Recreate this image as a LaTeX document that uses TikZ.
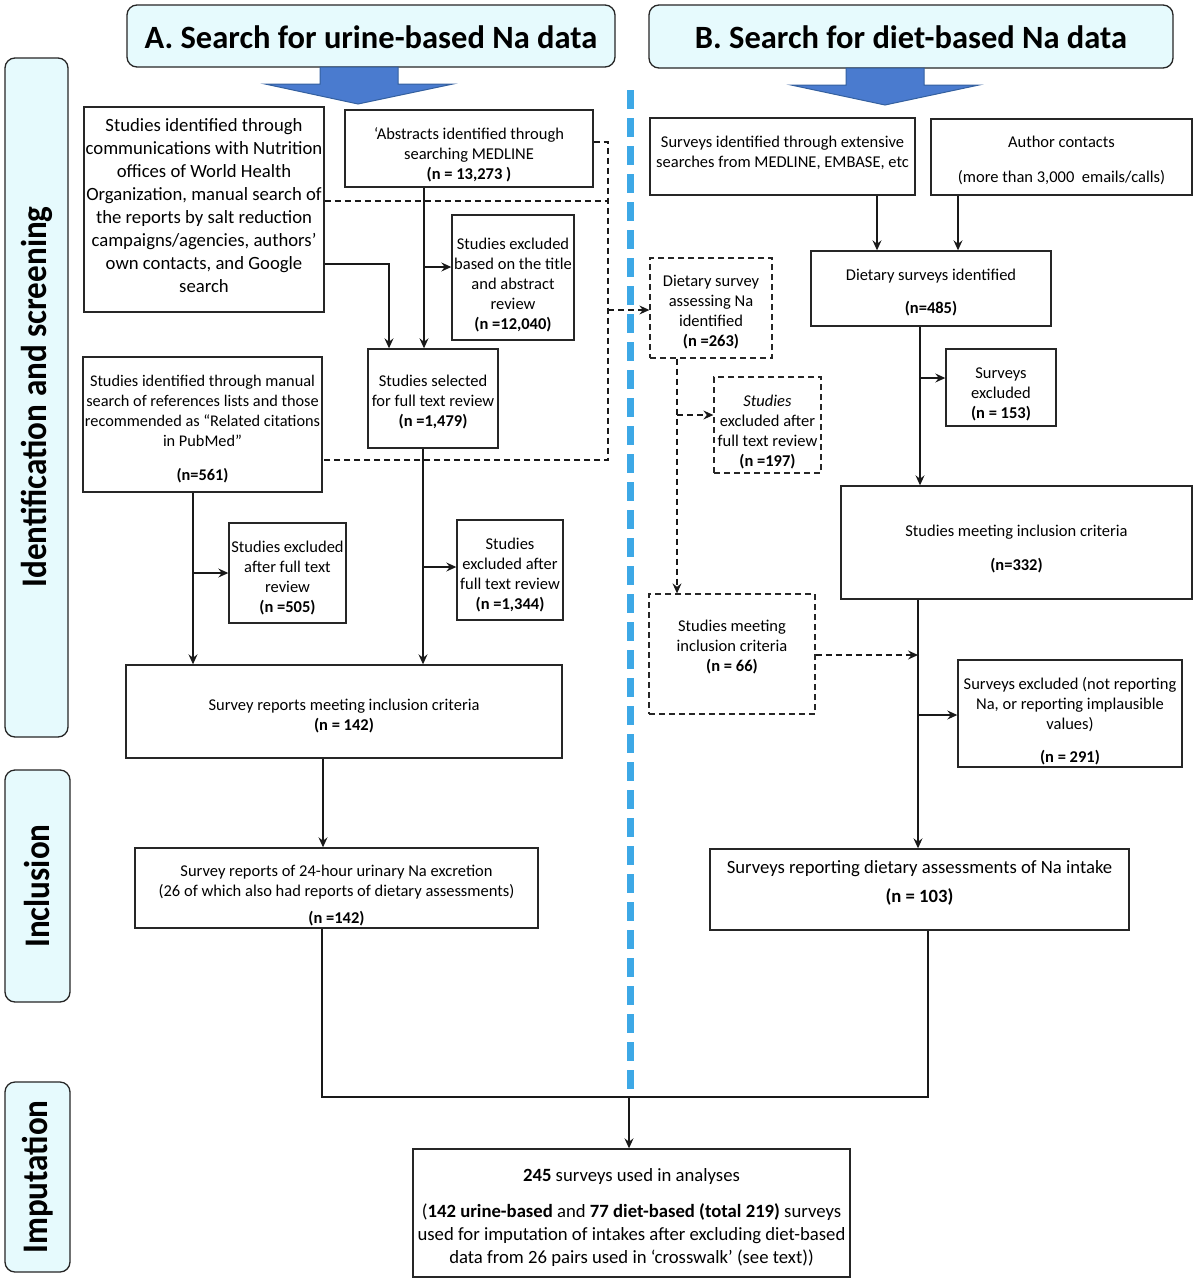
\documentclass[tikz,border=0pt]{standalone}
\usepackage{fontspec}
\setmainfont{Carlito}
\newfontfamily\sidefont[FakeStretch=0.92]{Carlito}
\usetikzlibrary{arrows.meta,calc}
\definecolor{hdrfill}{HTML}{E6FAFD}
\definecolor{arrblue}{HTML}{4A7BCF}
\definecolor{arredge}{HTML}{34609F}
\definecolor{dashblue}{HTML}{3DA8E6}
\tikzset{
  boxln/.style={draw=black!85, line width=1.4pt, rectangle, inner sep=0pt},
  dbox/.style={dash pattern=on 6pt off 4pt, line width=1.3pt},
  txt/.style={align=center, inner sep=0pt, font=\fontsize{16.5}{20}\selectfont},
  bigtxt/.style={align=center, inner sep=0pt, font=\fontsize{18.7}{23}\selectfont},
  smtxt/.style={align=center, inner sep=0pt, font=\fontsize{16.3}{20}\selectfont},
  conn/.style={line width=1.2pt, draw=black!90},
  arr/.style={conn, -{Stealth[length=10pt,width=9pt,inset=3.5pt]}},
  darr/.style={arr, dash pattern=on 6pt off 4pt},
  dln/.style={conn, dash pattern=on 6pt off 4pt},
  hdr/.style={draw=black!85, line width=1.3pt, fill=hdrfill, rounded corners=10pt, inner sep=0pt},
  hdrtxt/.style={font=\bfseries\fontsize{32.5}{36}\selectfont, inner sep=0pt},
  sidetxt/.style={rotate=90, font=\sidefont\bfseries\fontsize{36}{36}\selectfont, inner sep=0pt},
  bluearrow/.style={fill=arrblue, draw=arredge, line width=1pt, line join=miter}
}
% #1 box style, #2 text style, #3 name, #4 x1, #5 y1, #6 x2, #7 y2, #8 text centre y, #9 text
\newcommand\bx[9]{%
  \pgfmathsetmacro\bxcx{(#4+#6)/2}%
  \pgfmathsetmacro\bxcy{(#5+#7)/2}%
  \pgfmathsetmacro\bxw{#6-#4}%
  \pgfmathsetmacro\bxh{#7-#5}%
  \node[boxln,#1,minimum width=\bxw pt,minimum height=\bxh pt] (#3) at (\bxcx,\bxcy) {};
  \node[#2] (#3-t) at (\bxcx,#8) {#9};}
\begin{document}
\begin{tikzpicture}[x=1pt,y=-1pt]
\useasboundingbox (0,0) rectangle (1197,1280);
\fill[white] (0,0) rectangle (1197,1280);

% side bars
\bx{hdr}{sidetxt}{S1}{5}{58}{68}{737}{397}{Identification and screening}
\bx{hdr}{sidetxt}{S2}{5}{770}{70}{1002}{886}{Inclusion}
\bx{hdr}{sidetxt}{S3}{5}{1082}{70}{1272}{1177}{Imputation}

% headers
\bx{hdr}{hdrtxt}{HA}{127}{5}{615}{67}{37}{A. Search for urine-based Na data}
\bx{hdr}{hdrtxt}{HB}{649}{5}{1173}{68}{37}{B. Search for diet-based Na data}

% blue arrows
\draw[bluearrow] (320,67) -- (398,67) -- (398,84) -- (453,84) -- (358,104) -- (265,84) -- (320,84) -- cycle;
\draw[bluearrow] (846,68) -- (924,68) -- (924,85) -- (979,85) -- (885,105) -- (791,85) -- (846,85) -- cycle;

% blue dashed divider
\draw[dashblue, line width=7pt, dash pattern=on 19pt off 9pt] (630,90) -- (630,1092);

% left column
\bx{}{bigtxt}{L1}{84}{107}{324}{312}{206}{Studies identified through\\communications with Nutrition\\offices of World Health\\Organization, manual search of\\the reports by salt reduction\\campaigns/agencies, authors’\\own contacts, and Google\\search}
\bx{}{txt}{L2}{345}{110}{593}{187}{155}{`Abstracts identified through\\searching MEDLINE\\\textbf{(n = 13,273 )}}
\bx{}{txt}{L3}{452}{215}{574}{340}{285}{Studies excluded\\based on the title\\and abstract\\review\\\textbf{(n =12,040)}}
\bx{}{txt}{L4}{368}{349}{498}{448}{402}{Studies selected\\for full text review\\\textbf{(n =1,479)}}
\bx{}{smtxt}{L5}{83}{357}{322}{492}{429}{Studies identified through manual\\search of references lists and those\\recommended as “Related citations\\in PubMed”\\[14pt]\textbf{(n=561)}}
\bx{}{txt}{L6}{229}{523}{346}{623}{578}{Studies excluded\\after full text\\review\\\textbf{(n =505)}}
\bx{}{txt}{L7}{457}{520}{563}{620}{575}{Studies\\excluded after\\full text review\\\textbf{(n =1,344)}}
\bx{}{txt}{L8}{126}{665}{562}{758}{716}{Survey reports meeting inclusion criteria\\\textbf{(n = 142)}}
\bx{}{txt}{L9}{135}{848}{538}{928}{896}{Survey reports of 24-hour urinary Na excretion\\(26 of which also had reports of dietary assessments)\\[7pt]\textbf{(n =142)}}

% right column
\bx{}{txt}{R1}{650}{118}{915}{195}{153}{Surveys identified through extensive\\searches from MEDLINE, EMBASE, etc}
\bx{}{txt}{R2}{931}{119}{1192}{195}{160}{Author contacts\\[15pt](more than 3,000~ emails/calls)}
\bx{}{txt}{R3}{811}{251}{1051}{326}{293}{Dietary surveys identified\\[13pt]\textbf{(n=485)}}
\bx{dbox}{txt}{Rd1}{650}{258}{772}{358}{312}{Dietary survey\\assessing Na\\identified\\\textbf{(n =263)}}
\bx{dbox}{txt}{Rd2}{714}{377}{821}{473}{432}{\textit{Studies}\\excluded after\\full text review\\\textbf{(n =197)}}
\bx{}{txt}{R4}{946}{349}{1056}{426}{394}{Surveys\\excluded\\\textbf{(n = 153)}}
\bx{}{txt}{R5}{841}{486}{1192}{599}{549}{Studies meeting inclusion criteria\\[14pt]\textbf{(n=332)}}
\bx{dbox}{txt}{Rd3}{649}{594}{815}{714}{647}{Studies meeting\\inclusion criteria\\\textbf{(n = 66)}}
\bx{}{txt}{R6}{958}{660}{1182}{767}{721}{Surveys excluded (not reporting\\Na, or reporting implausible\\values)\\[13pt]\textbf{(n = 291)}}
\bx{}{bigtxt}{R7}{710}{849}{1129}{930}{883}{Surveys reporting dietary assessments of Na intake\\[6pt]\textbf{(n = 103)}}

% bottom
\bx{}{bigtxt}{BT}{413}{1149}{850}{1277}{1217}{\textbf{245} surveys used in analyses\\[13pt](\textbf{142 urine-based} and \textbf{77 diet-based (total 219)} surveys\\used for imputation of intakes after excluding diet-based\\data from 26 pairs used in ‘crosswalk’ (see text))}

% helper coordinates
\coordinate (xa) at (424,0);
\coordinate (xb) at (389,0);
\coordinate (xc) at (423,0);
\coordinate (xd) at (193,0);
\coordinate (xe) at (323,0);
\coordinate (xf) at (322,0);
\coordinate (xg) at (928,0);
\coordinate (xm) at (629,0);
\coordinate (x877) at (877,0);
\coordinate (x958) at (958,0);
\coordinate (x920) at (920,0);
\coordinate (x918) at (918,0);
\coordinate (x608) at (608,0);
\coordinate (x677) at (677,0);
\coordinate (y142) at (0,142);
\coordinate (y201) at (0,201);
\coordinate (y264) at (0,264);
\coordinate (y267) at (0,267);
\coordinate (y310) at (0,310);
\coordinate (y378) at (0,378);
\coordinate (y415) at (0,415);
\coordinate (y460) at (0,460);
\coordinate (y567) at (0,567);
\coordinate (y573) at (0,573);
\coordinate (y655) at (0,655);
\coordinate (y715) at (0,715);
\coordinate (y1097) at (0,1097);

% left connectors
\draw[arr] (L2.south -| xa) -- (L4.north -| xa);
\draw[arr] (xa |- y267) -- (L3.west |- y267);
\draw[arr] (L1.east |- y264) -| (L4.north -| xb);
\draw[arr] (L4.south -| xc) -- (L8.north -| xc);
\draw[arr] (xc |- y567) -- (L7.west |- y567);
\draw[arr] (L5.south -| xd) -- (L8.north -| xd);
\draw[arr] (xd |- y573) -- (L6.west |- y573);
\draw[arr] (L8.south -| xe) -- (L9.north -| xe);
\draw[conn] (L9.south -| xf) -- (xf |- y1097) -- (xg |- y1097) -- (R7.south -| xg);
\draw[arr] (xm |- y1097) -- (BT.north -| xm);

% right connectors
\draw[arr] (R1.south -| x877) -- (R3.north -| x877);
\draw[arr] (R2.south -| x958) -- (R3.north -| x958);
\draw[arr] (R3.south -| x920) -- (R5.north -| x920);
\draw[arr] (x920 |- y378) -- (R4.west |- y378);
\draw[arr] (R5.south -| x918) -- (R7.north -| x918);
\draw[arr] (x918 |- y715) -- (R6.west |- y715);
\draw[darr] (Rd3.east |- y655) -- (x918 |- y655);

% dashed cross connectors
\draw[dln] (L2.east |- y142) -- (x608 |- y142) -- (x608 |- y460) -- (L5.east |- y460);
\draw[dln] (L1.east |- y201) -- (x608 |- y201);
\draw[darr] (x608 |- y310) -- (Rd1.west |- y310);
\draw[darr] (Rd1.south -| x677) -- (Rd3.north -| x677);
\draw[darr] (x677 |- y415) -- (Rd2.west |- y415);
\end{tikzpicture}
\end{document}
